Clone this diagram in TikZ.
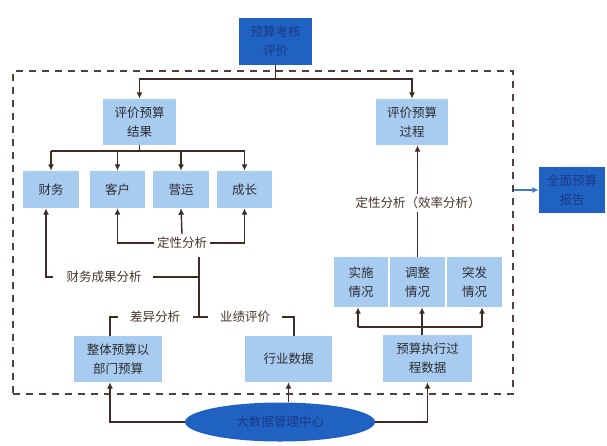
\documentclass[tikz,border=0pt]{standalone}
\usepackage{fontspec}
\setmainfont{Noto Sans CJK SC}
\usetikzlibrary{arrows.meta,shapes.geometric}
\definecolor{lb}{RGB}{168,203,240}
\definecolor{db}{RGB}{32,98,194}
\definecolor{navy}{RGB}{28,58,135}
\definecolor{ln}{RGB}{62,44,38}
\definecolor{tx}{RGB}{72,52,46}
\definecolor{bt}{RGB}{45,45,50}
\begin{document}
\begin{tikzpicture}[x=1pt,y=-1pt,
  font=\fontsize{12.5}{19}\selectfont,
  lbox/.style={fill=lb, inner sep=0pt, align=center, text=bt},
  dbox/.style={fill=db, inner sep=0pt, align=center, text=navy},
  lab/.style={text=tx, inner sep=3pt},
  conn/.style={draw=ln, line width=1.4pt},
  arr/.style={conn, -{Latex[length=6.5pt,width=6pt]}},
  barr/.style={draw=db!85, line width=1.3pt, -{Latex[length=6.5pt,width=6pt]}}
]
\useasboundingbox (0,0) rectangle (607,445);
\fill[white] (0,0) rectangle (607,445);

% dashed frame
\node[draw=ln!90, dash pattern=on 7pt off 6pt, line width=1.5pt,
      minimum width=500pt, minimum height=323pt, inner sep=0pt] (frame) at (263,232.5) {};

% dark boxes
\node[dbox, minimum width=73pt, minimum height=47pt] (top) at (275.5,41.5) {预算考核\\评价};
\node[dbox, minimum width=66pt, minimum height=46pt] (report) at (572,190) {全面预算\\报告};
\node[ellipse, fill=db, minimum width=190pt, minimum height=39pt, inner sep=0pt, text=navy] (big) at (280,422) {大数据管理中心};

% light boxes
\node[lbox, minimum width=73pt, minimum height=46pt] (res) at (139.5,122) {评价预算\\结果};
\node[lbox, minimum width=72pt, minimum height=46pt] (proc) at (412,122) {评价预算\\过程};
\node[lbox, minimum width=56pt, minimum height=37pt] (cw) at (51,189.5) {财务};
\node[lbox, minimum width=55pt, minimum height=37pt] (kh) at (117.5,189.5) {客户};
\node[lbox, minimum width=56pt, minimum height=37pt] (yy) at (181,189.5) {营运};
\node[lbox, minimum width=55pt, minimum height=37pt] (cz) at (244.5,189.5) {成长};
\node[lbox, minimum width=54pt, minimum height=50pt] (ss) at (361,282) {实施\\情况};
\node[lbox, minimum width=55pt, minimum height=50pt] (tz) at (417.5,282) {调整\\情况};
\node[lbox, minimum width=55pt, minimum height=50pt] (tf) at (474.5,282) {突发\\情况};
\node[lbox, minimum width=88pt, minimum height=46pt] (zt) at (118,359) {整体预算以\\部门预算};
\node[lbox, minimum width=87pt, minimum height=46pt] (hy) at (288.5,359) {行业数据};
\node[lbox, minimum width=89pt, minimum height=47pt] (zx) at (427.5,358.5) {预算执行过\\程数据};

% labels
\node[lab] (dx1) at (182,243) {定性分析};
\node[lab] (cwcg) at (104,277) {财务成果分析};
\node[lab] (cyfx) at (155,317) {差异分析};
\node[lab] (yjpj) at (245,317) {业绩评价};
\node[lab] (dx2) at (418,203) {定性分析（效率分析）};

% helper coordinates
\coordinate (ybus1) at (0,79);
\coordinate (ybus2) at (0,151);
\coordinate (ybus3) at (0,327);
\coordinate (cwx) at (46,0);
\coordinate (bx1) at (110,0);
\coordinate (bx2) at (294,0);
\coordinate (jt) at (199,257);
\coordinate (jb) at (199,317);
\coordinate (jl) at (193,317);
\coordinate (jr) at (208,317);
\coordinate (b1) at (358,327);
\coordinate (b2) at (422,327);
\coordinate (b3) at (482,327);

% top distribution
\draw[conn] (top.south) -- (top.south |- ybus1);
\draw[arr] (top.south |- ybus1) -| (res.north);
\draw[arr] (top.south |- ybus1) -| (proc.north);

% result -> four boxes
\draw[conn] (res.south) -- (res.south |- ybus2);
\draw[conn] (cw.north |- ybus2) -- (cz.north |- ybus2);
\foreach \n in {cw,kh,yy,cz} \draw[arr] (\n.north |- ybus2) -- (\n.north);

% qualitative analysis
\draw[arr] (dx1.west) -| (kh.south);
\draw[arr] (dx1.east) -| (cz.south);
\draw[arr] (dx1.north) -- (yy.south);
\draw[arr] ([xshift=-10pt]cwcg.west) -| (cwx |- cw.south);

% junction
\draw[conn] (jt) -- (jb);
\draw[conn] (jl) -- (jr);
\draw[conn] ([xshift=8pt]cwcg.east) -- (jt |- cwcg.east);

% brackets
\draw[conn] ([xshift=-9pt]cyfx.west) -| (bx1 |- zt.north);
\draw[conn] ([xshift=9pt]yjpj.east) -| (bx2 |- hy.north);

% process side
\draw[conn] (tz.north) -- (tz.north |- dx2.south);
\draw[arr] (tz.north |- dx2.north) -- (tz.north |- proc.south);
\draw[conn] (b2 |- zx.north) -- (b2);
\draw[conn] (b1) -- (b3);
\draw[arr] (b1) -- (b1 |- ss.south);
\draw[arr] (b2) -- (b2 |- tz.south);
\draw[arr] (b3) -- (b3 |- tf.south);

% big data centre
\draw[arr] (big.west) -| (bx1 |- zt.south);
\draw[arr] (big.north -| hy.south) -- (hy.south);
\draw[arr] (big.east) -| (zx.south);

% report
\draw[barr] (frame.east |- report.west) -- (report.west);
\end{tikzpicture}
\end{document}
